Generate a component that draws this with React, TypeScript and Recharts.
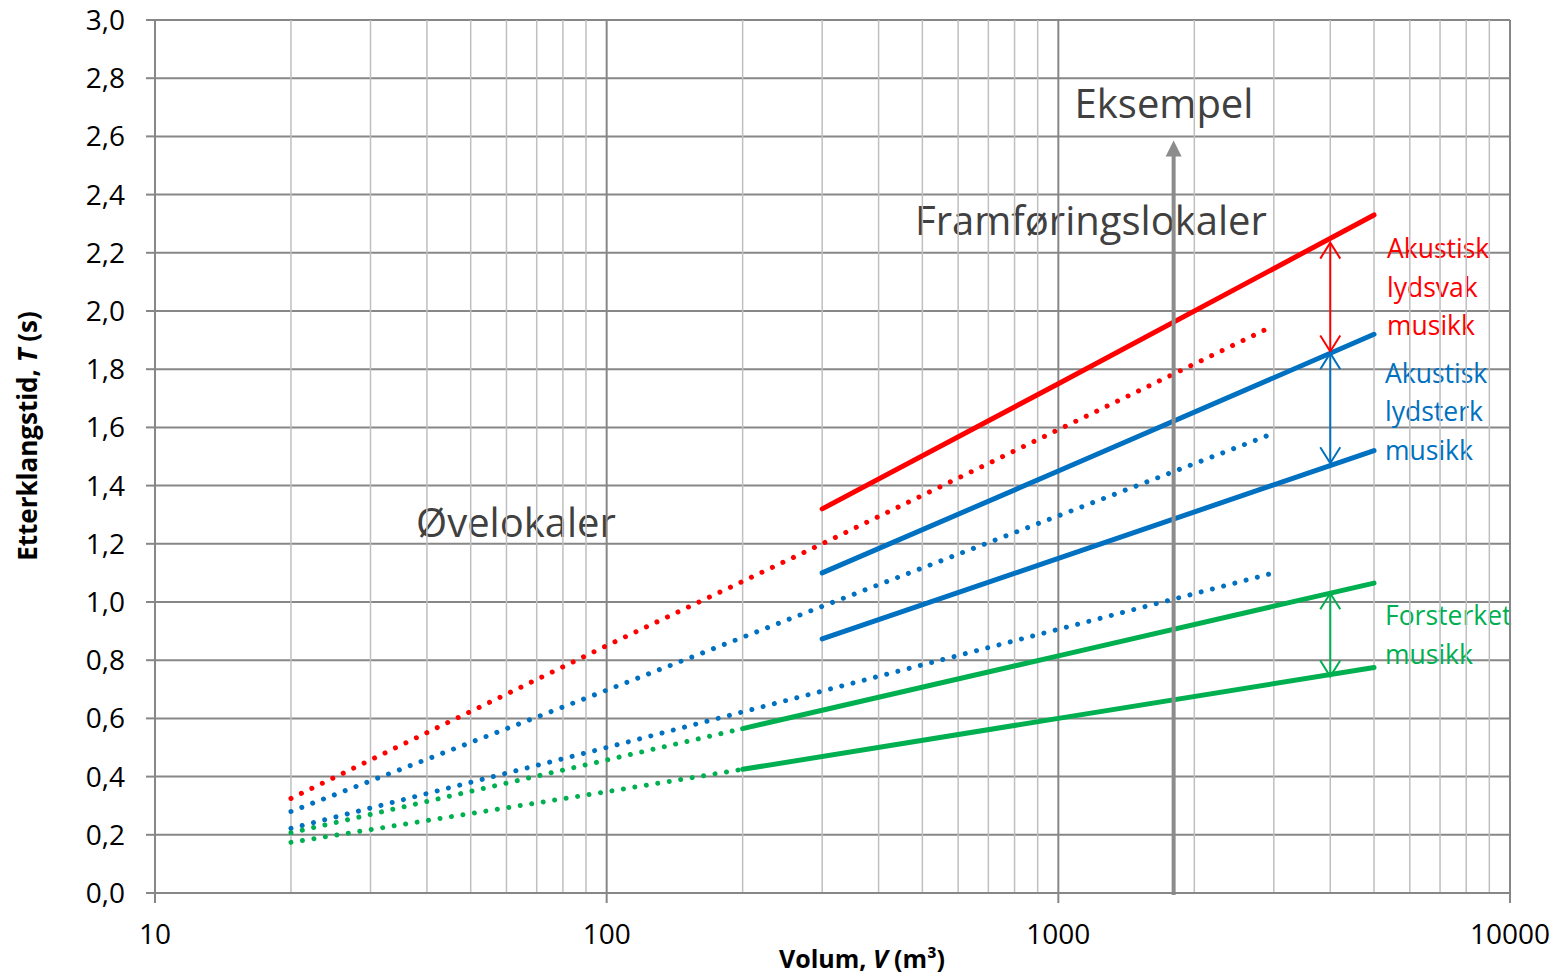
import React from 'react';
import {
  LineChart,
  Line,
  XAxis,
  YAxis,
  CartesianGrid,
  ReferenceLine,
  Customized,
} from 'recharts';

// ---------- data ----------
const xTicks = [10, 100, 1000, 10000];
const yTicks = [0, 0.2, 0.4, 0.6, 0.8, 1.0, 1.2, 1.4, 1.6, 1.8, 2.0, 2.2, 2.4, 2.6, 2.8, 3.0];
const minorGrid = [20, 30, 40, 50, 60, 70, 80, 90, 200, 300, 400, 500, 600, 700, 800, 900, 2000, 3000, 4000, 5000, 6000, 7000, 8000, 9000];
const majorGrid = [100, 1000, 10000];

const redSolid = [
  { v: 300, t: 1.32 },
  { v: 1000, t: 1.75 },
  { v: 5000, t: 2.33 },
];
const redDotted = [
  { v: 20, t: 0.325 },
  { v: 100, t: 0.85 },
  { v: 300, t: 1.2 },
  { v: 3000, t: 1.95 },
];
const blueSolidUpper = [
  { v: 300, t: 1.1 },
  { v: 1000, t: 1.45 },
  { v: 5000, t: 1.92 },
];
const blueSolidLower = [
  { v: 300, t: 0.873 },
  { v: 1000, t: 1.15 },
  { v: 5000, t: 1.52 },
];
const blueDottedUpper = [
  { v: 20, t: 0.28 },
  { v: 100, t: 0.697 },
  { v: 300, t: 0.985 },
  { v: 3000, t: 1.58 },
];
const blueDottedLower = [
  { v: 20, t: 0.222 },
  { v: 100, t: 0.5 },
  { v: 3000, t: 1.1 },
];
const greenSolidUpper = [
  { v: 200, t: 0.565 },
  { v: 1000, t: 0.815 },
  { v: 5000, t: 1.065 },
];
const greenSolidLower = [
  { v: 200, t: 0.425 },
  { v: 1000, t: 0.6 },
  { v: 5000, t: 0.775 },
];
const greenDottedUpper = [
  { v: 20, t: 0.207 },
  { v: 100, t: 0.457 },
  { v: 200, t: 0.565 },
];
const greenDottedLower = [
  { v: 20, t: 0.174 },
  { v: 100, t: 0.348 },
  { v: 200, t: 0.425 },
];

// example arrow (volume, top of arrow)
const exampleVolume = 1800;
const exampleTop = 2.586;

// range arrows between lines
const rangeVolume = 4000;
const redRange = [2.235, 1.861];
const blueRange = [1.855, 1.477];
const greenRange = [1.03, 0.744];

// ---------- styles ----------
const RED = '#ff0000';
const BLUE = '#0070c0';
const GREEN = '#00b050';
const GRID_DARK = '#878787';
const GRID_LIGHT = '#bfbfbf';
const TEXT_DARK = '#404040';
const FONT = "'Open Sans', 'DejaVu Sans', sans-serif";

const fmt = (v: number) => v.toFixed(1).replace('.', ',');

const YTick = (props: any) => {
  const { x, y, payload } = props;
  return (
    <text x={x} y={y + 10} textAnchor="end" fontFamily={FONT} fontSize={28} fill="#000">
      {fmt(payload.value)}
    </text>
  );
};

const XTick = (props: any) => {
  const { x, y, payload } = props;
  return (
    <text x={x} y={y + 41} textAnchor="middle" fontFamily={FONT} fontSize={28} fill="#000">
      {String(payload.value)}
    </text>
  );
};

const makeDoubleArrow = (color: string) => (props: any) => {
  const { x1, y1, x2, y2 } = props;
  const top = Math.min(y1, y2);
  const bot = Math.max(y1, y2);
  const hw = 10;
  const hh = 16;
  return (
    <g>
      <line x1={x1} y1={top} x2={x2} y2={bot} stroke={color} strokeWidth={2} />
      <polyline
        points={`${x1 - hw},${top + hh} ${x1},${top} ${x1 + hw},${top + hh}`}
        fill="none"
        stroke={color}
        strokeWidth={2}
      />
      <polyline
        points={`${x1 - hw},${bot - hh} ${x1},${bot} ${x1 + hw},${bot - hh}`}
        fill="none"
        stroke={color}
        strokeWidth={2}
      />
    </g>
  );
};

const ExampleArrow = (props: any) => {
  const { x1, y1, x2, y2 } = props;
  const top = Math.min(y1, y2);
  const bot = Math.max(y1, y2);
  return (
    <g>
      <line x1={x1} y1={bot + 2} x2={x2} y2={top + 14} stroke="#8c8c8c" strokeWidth={4} />
      <polygon points={`${x1 - 8},${top + 16} ${x1},${top} ${x1 + 8},${top + 16}`} fill="#8c8c8c" />
    </g>
  );
};

const Annotations = () => (
  <g fontFamily={FONT}>
    <text x={1164} y={118} textAnchor="middle" fontSize={40} fill={TEXT_DARK}>Eksempel</text>
    <text x={1091} y={235} textAnchor="middle" fontSize={40} fill={TEXT_DARK}>Framføringslokaler</text>
    <text x={516} y={537} textAnchor="middle" fontSize={40} fill={TEXT_DARK}>Øvelokaler</text>

    <text x={1387} y={258} fontSize={26.5} fill={RED}>Akustisk</text>
    <text x={1387} y={297} fontSize={26.5} fill={RED}>lydsvak</text>
    <text x={1387} y={335} fontSize={26.5} fill={RED}>musikk</text>

    <text x={1385} y={383} fontSize={26.5} fill={BLUE}>Akustisk</text>
    <text x={1385} y={421} fontSize={26.5} fill={BLUE}>lydsterk</text>
    <text x={1385} y={460} fontSize={26.5} fill={BLUE}>musikk</text>

    <text x={1385} y={625} fontSize={26.5} fill={GREEN}>Forsterket</text>
    <text x={1385} y={664} fontSize={26.5} fill={GREEN}>musikk</text>

    <text x={862} y={968} textAnchor="middle" fontSize={25} fontWeight="bold" fill="#000">
      Volum, <tspan fontStyle="italic">V</tspan> (m³)
    </text>
    <text
      x={37}
      y={436}
      textAnchor="middle"
      fontSize={26}
      fontWeight="bold"
      fill="#000"
      transform="rotate(-90, 37, 436)"
    >
      Etterklangstid, <tspan fontStyle="italic">T</tspan> (s)
    </text>
  </g>
);

const solidProps = {
  dataKey: 't',
  dot: false,
  activeDot: false,
  isAnimationActive: false,
  strokeWidth: 5,
  strokeLinecap: 'round' as const,
  type: 'linear' as const,
};
const dottedProps = {
  ...solidProps,
  strokeWidth: 5,
  strokeDasharray: '0.01 11.6',
};

export default function App() {
  return (
    <div style={{ width: 1558, height: 980, marginLeft: -8, marginTop: -8 }}>
      <LineChart width={1558} height={980} margin={{ top: 20, right: 48, bottom: 0, left: 0 }}>
        <CartesianGrid vertical={false} stroke={GRID_DARK} strokeWidth={2} />
        {minorGrid.map((v) => (
          <ReferenceLine key={`mi${v}`} x={v} stroke={GRID_LIGHT} strokeWidth={1.5} />
        ))}
        {majorGrid.map((v) => (
          <ReferenceLine key={`ma${v}`} x={v} stroke={GRID_DARK} strokeWidth={2} />
        ))}
        <XAxis
          dataKey="v"
          type="number"
          scale="log"
          domain={[10, 10000]}
          ticks={xTicks}
          interval={0}
          allowDataOverflow
          height={87}
          tickSize={10}
          tickMargin={0}
          axisLine={{ stroke: GRID_DARK, strokeWidth: 2 }}
          tickLine={{ stroke: GRID_DARK, strokeWidth: 2 }}
          tick={<XTick />}
        />
        <YAxis
          type="number"
          domain={[0, 3]}
          ticks={yTicks}
          interval={0}
          width={155}
          tickSize={9}
          tickMargin={21}
          axisLine={{ stroke: GRID_DARK, strokeWidth: 2 }}
          tickLine={{ stroke: GRID_DARK, strokeWidth: 2 }}
          tick={<YTick />}
        />
        <Customized component={<Annotations />} />

        <Line data={redDotted} stroke={RED} {...dottedProps} />
        <Line data={blueDottedUpper} stroke={BLUE} {...dottedProps} />
        <Line data={blueDottedLower} stroke={BLUE} {...dottedProps} />
        <Line data={greenDottedUpper} stroke={GREEN} {...dottedProps} />
        <Line data={greenDottedLower} stroke={GREEN} {...dottedProps} />

        <Line data={redSolid} stroke={RED} {...solidProps} />
        <Line data={blueSolidUpper} stroke={BLUE} {...solidProps} />
        <Line data={blueSolidLower} stroke={BLUE} {...solidProps} />
        <Line data={greenSolidUpper} stroke={GREEN} {...solidProps} />
        <Line data={greenSolidLower} stroke={GREEN} {...solidProps} />

        <ReferenceLine
          segment={[{ x: exampleVolume, y: 0 }, { x: exampleVolume, y: exampleTop }]}
          shape={ExampleArrow}
        />
        <ReferenceLine
          segment={[{ x: rangeVolume, y: redRange[0] }, { x: rangeVolume, y: redRange[1] }]}
          shape={makeDoubleArrow(RED)}
        />
        <ReferenceLine
          segment={[{ x: rangeVolume, y: blueRange[0] }, { x: rangeVolume, y: blueRange[1] }]}
          shape={makeDoubleArrow(BLUE)}
        />
        <ReferenceLine
          segment={[{ x: rangeVolume, y: greenRange[0] }, { x: rangeVolume, y: greenRange[1] }]}
          shape={makeDoubleArrow(GREEN)}
        />
      </LineChart>
    </div>
  );
}
